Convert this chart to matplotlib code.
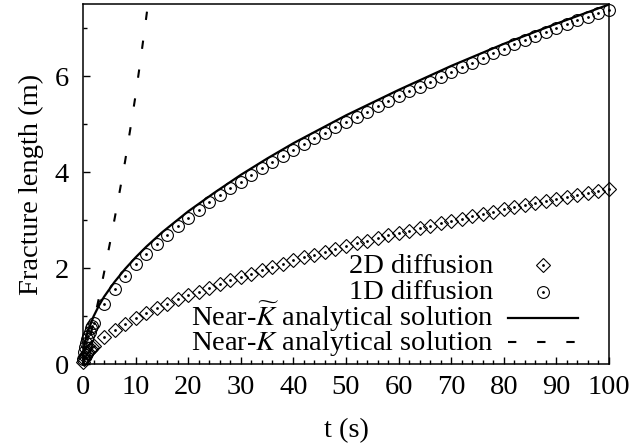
"""
Fracture length vs time: 1D/2D diffusion runs against the near-K analytical solutions
"""
import matplotlib
matplotlib.use("Agg")
import matplotlib.pyplot as plt
from matplotlib.ticker import MultipleLocator

BLACK = "#000000"
FONT = ["Liberation Serif", "DejaVu Serif"]
FS = 20.5

plt.rcParams["font.family"] = FONT
plt.rcParams["mathtext.fontset"] = "stix"

# simulation output times (s)
t_sim = [0.05, 0.2, 0.4, 0.6, 0.8, 1.0, 1.25, 1.5, 1.75] + list(range(2, 101, 2))

# 2D diffusion (m)
L_2d = [0.04, 0.10, 0.15, 0.19, 0.22, 0.25, 0.29, 0.32, 0.35,
        0.38, 0.56, 0.71, 0.84, 0.96, 1.07, 1.17, 1.26, 1.35, 1.43,
        1.51, 1.59, 1.67, 1.74, 1.81, 1.88, 1.95, 2.02, 2.09, 2.16,
        2.22, 2.28, 2.34, 2.40, 2.46, 2.52, 2.57, 2.63, 2.68, 2.73,
        2.78, 2.83, 2.88, 2.93, 2.98, 3.03, 3.08, 3.13, 3.17, 3.22,
        3.27, 3.31, 3.35, 3.40, 3.44, 3.48, 3.52, 3.56, 3.60, 3.64]

# 1D diffusion (m)
L_1d = [0.11, 0.24, 0.35, 0.44, 0.52, 0.59, 0.67, 0.74, 0.80,
        0.86, 1.26, 1.57, 1.84, 2.08, 2.30, 2.50, 2.69, 2.87, 3.04,
        3.21, 3.37, 3.52, 3.66, 3.80, 3.94, 4.08, 4.21, 4.33, 4.46,
        4.58, 4.70, 4.82, 4.93, 5.04, 5.15, 5.26, 5.37, 5.47, 5.58,
        5.68, 5.78, 5.88, 5.98, 6.08, 6.18, 6.28, 6.38, 6.47, 6.57,
        6.66, 6.75, 6.84, 6.92, 7.00, 7.08, 7.16, 7.23, 7.31, 7.38]

# near-K~ analytical solution
t_ktilde = [0, 0.1, 0.3, 0.6, 1, 2, 3, 4, 6, 8, 10, 12, 15, 20, 25, 30, 35, 40,
            50, 60, 70, 80, 90, 100]
L_ktilde = [0, 0.25, 0.42, 0.56, 0.70, 0.99, 1.21, 1.40, 1.71, 1.98, 2.22, 2.44,
            2.74, 3.18, 3.57, 3.94, 4.28, 4.60, 5.18, 5.71, 6.21, 6.67, 7.09, 7.49]

# near-K analytical solution
t_k = [0, 1, 2, 3, 4, 5, 6, 7, 8, 9, 10, 11, 12, 13]
L_k = [0, 0.40, 0.86, 1.36, 1.90, 2.45, 3.02, 3.61, 4.22, 4.90, 5.60, 6.38, 7.20, 8.05]

labels = ["2D diffusion", "1D diffusion",
          r"Near-$\widetilde{K}$ analytical solution",
          r"Near-$K$ analytical solution"]

DIAMOND = dict(linestyle="none", marker="D", markersize=6.8, markerfacecolor="none",
               markeredgecolor=BLACK, markeredgewidth=0.8)
CIRCLE = dict(linestyle="none", marker="o", markersize=8.5, markerfacecolor="none",
              markeredgecolor=BLACK, markeredgewidth=0.8)
DOT = dict(linestyle="none", marker="o", markersize=1.0, color=BLACK)
SOLID = dict(color=BLACK, linewidth=1.6)
DASHED = dict(color=BLACK, linewidth=1.5, linestyle=(0, (4, 10)))

fig = plt.figure(figsize=(6.33, 4.45), dpi=100, facecolor="white")
ax = fig.add_axes([0.1311, 0.182, 0.831, 0.809])

# 점 중앙의 작은 점은 따로 찍음
ax.plot(t_sim, L_2d, clip_on=False, **DIAMOND)
ax.plot(t_sim, L_2d, clip_on=False, **DOT)
ax.plot(t_sim, L_1d, clip_on=False, **CIRCLE)
ax.plot(t_sim, L_1d, clip_on=False, **DOT)
ax.plot(t_ktilde, L_ktilde, **SOLID)
ax.plot(t_k, L_k, **DASHED)

ax.set_xlim(0, 100)
ax.set_ylim(0, 7.5)
ax.xaxis.set_major_locator(MultipleLocator(10))
ax.xaxis.set_minor_locator(MultipleLocator(2))
ax.yaxis.set_major_locator(MultipleLocator(2))
ax.yaxis.set_minor_locator(MultipleLocator(1))
ax.tick_params(which="both", direction="in", top=False, right=False,
               labelsize=FS, width=1.0)
ax.tick_params(which="major", length=5)
ax.tick_params(which="minor", length=2.6)
ax.tick_params(axis="x", pad=8)
ax.tick_params(axis="y", pad=10)
for s in ax.spines.values():
    s.set_linewidth(1.1)

ax.set_xlabel("t (s)", fontsize=FS, labelpad=13)
ax.set_ylabel("Fracture length (m)", fontsize=FS, labelpad=8)

# gnuplot 식 범례: 글자 오른쪽 정렬, 줄 간격 고정
text_x = 0.7795
base_y = [0.2528, 0.1806, 0.1056, 0.0389]
mark_y = [0.275, 0.200, 0.128, 0.062]
h_x0, h_x1 = 0.808, 0.941
for i, lab in enumerate(labels):
    ax.text(text_x, base_y[i], lab, transform=ax.transAxes, ha="right",
            va="baseline", fontsize=FS)
ax.plot([(h_x0 + h_x1) / 2], [mark_y[0]], transform=ax.transAxes, clip_on=False, **DIAMOND)
ax.plot([(h_x0 + h_x1) / 2], [mark_y[0]], transform=ax.transAxes, clip_on=False, **DOT)
ax.plot([(h_x0 + h_x1) / 2], [mark_y[1]], transform=ax.transAxes, clip_on=False, **CIRCLE)
ax.plot([(h_x0 + h_x1) / 2], [mark_y[1]], transform=ax.transAxes, clip_on=False, **DOT)
ax.plot([h_x0, h_x1], [mark_y[2]] * 2, transform=ax.transAxes, **SOLID)
ax.plot([h_x0, h_x1], [mark_y[3]] * 2, transform=ax.transAxes, **DASHED)

fig.savefig("out.png", dpi=100, facecolor="white")
